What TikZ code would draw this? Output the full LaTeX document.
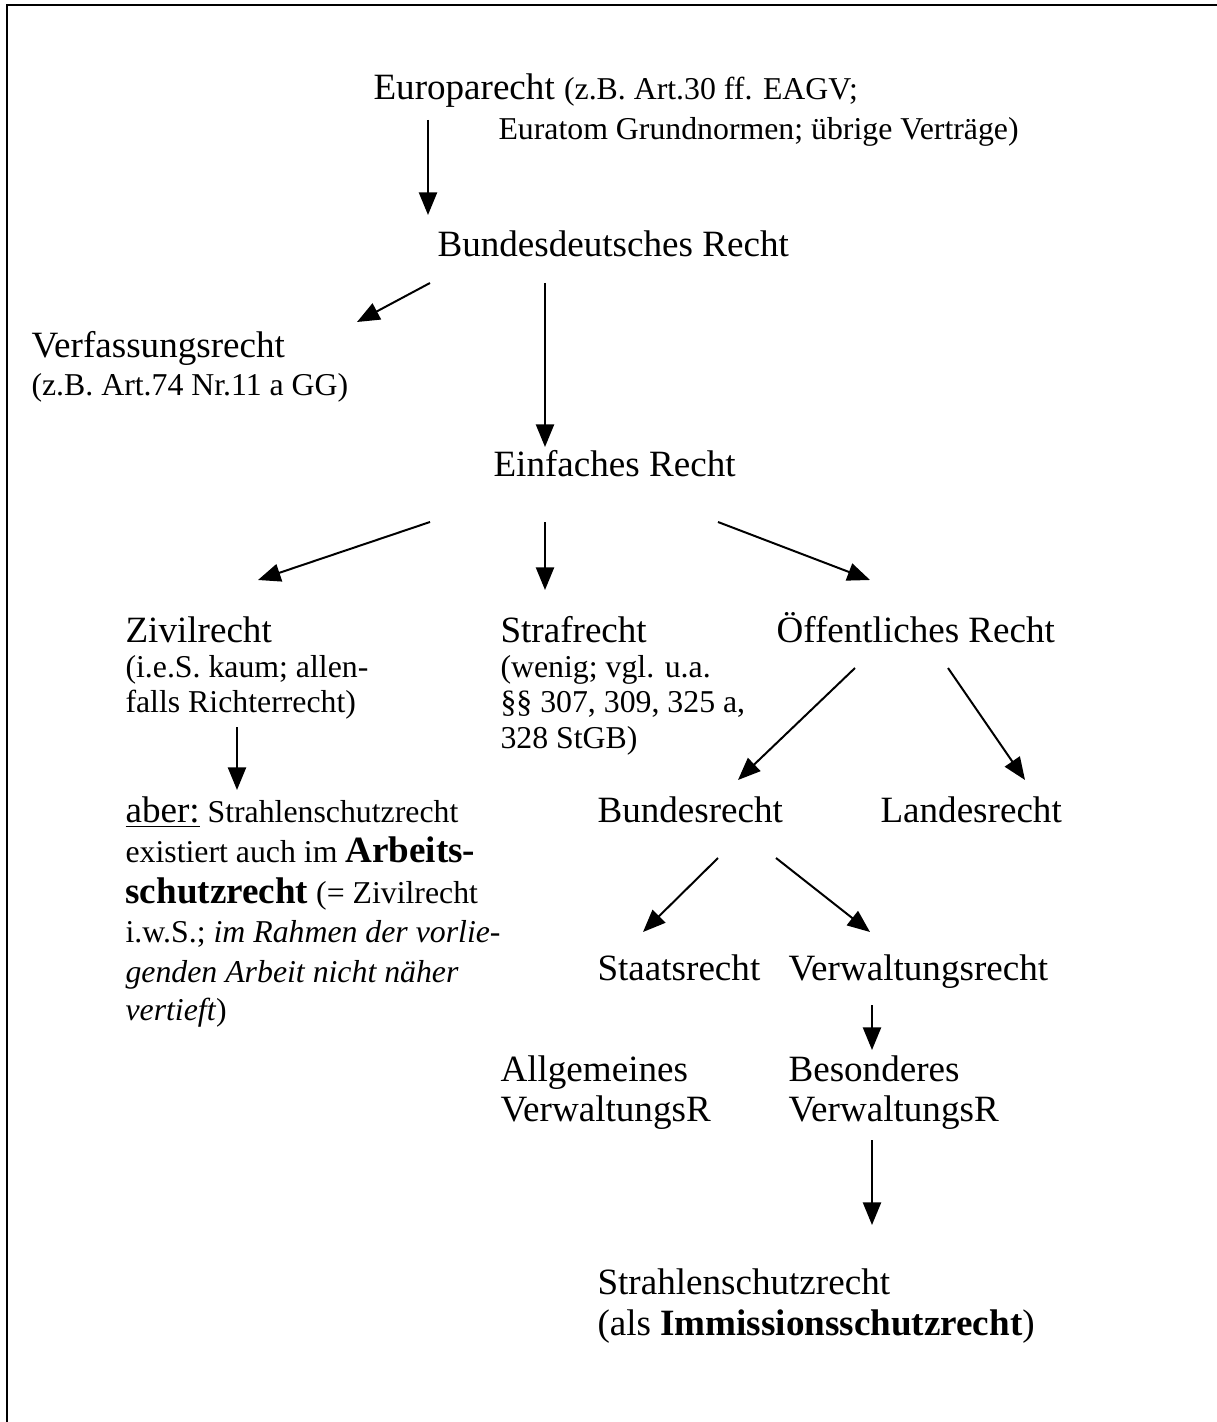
\documentclass[tikz,border=0pt]{standalone}
\usepackage{fontspec}
\setmainfont{Liberation Serif}
\usetikzlibrary{arrows.meta}
\newcommand{\bigsz}{\fontsize{14}{16}\selectfont}
\tikzset{
  big/.style={font=\fontsize{14}{16}\selectfont, inner sep=0pt, anchor=base west},
  small/.style={font=\fontsize{12}{14}\selectfont, inner sep=0pt, anchor=base west},
  arr/.style={-{Triangle[length=8.5pt,width=6.8pt]}, line width=0.75pt},
  frame/.style={line width=0.8pt}
}
\begin{document}
\begin{tikzpicture}[x=0.3774pt,y=-0.3774pt]
\useasboundingbox (0,0) rectangle (1217,1422);
\draw[frame] (7,1422) -- (7,5) -- (1217,5);

% texts
\node[big] (eu) at (373,100) {Europarecht {\fontsize{12}{14}\selectfont (z.B. Art.30 ff. EAGV;}};
\node[small] (eu2) at (498,140) {Euratom Grundnormen; übrige Verträge)};
\node[big] (bd) at (437,257) {Bundesdeutsches Recht};
\node[big] (vf) at (31,357) {Verfassungsrecht};
\node[small] (vf2) at (31,395) {(z.B. Art.74 Nr.11 a GG)};
\node[big] (ein) at (493,476) {Einfaches Recht};
\node[big] (ziv) at (125,642) {Zivilrecht};
\node[small] (ziv2) at (125,677) {(i.e.S. kaum; allen-};
\node[small] (ziv3) at (125,712) {falls Richterrecht)};
\node[big] (stra) at (500,642) {Strafrecht};
\node[small] (stra2) at (500,677) {(wenig; vgl. u.a.};
\node[small] (stra3) at (500,712) {§§ 307, 309, 325 a,};
\node[small] (stra4) at (500,748) {328 StGB)};
\node[big] (oef) at (776,642) {Öffentliches Recht};
\node[small] (ab1) at (125,822) {{\bigsz\underline{aber:}} Strahlenschutzrecht};
\node[small] (ab2) at (125,862) {existiert auch im {\bigsz\bfseries Arbeits-}};
\node[small] (ab3) at (125,903) {{\bigsz\bfseries schutzrecht} (= Zivilrecht};
\node[small] (ab4) at (125,942) {i.w.S.; \textit{im Rahmen der vorlie-}};
\node[small] (ab5) at (125,982) {\textit{genden Arbeit nicht näher}};
\node[small] (ab6) at (125,1020) {\textit{vertieft})};
\node[big] (bund) at (597,822) {Bundesrecht};
\node[big] (land) at (880,822) {Landesrecht};
\node[big] (staat) at (597,980) {Staatsrecht};
\node[big] (verw) at (788,980) {Verwaltungsrecht};
\node[big] (allg) at (500,1081) {Allgemeines};
\node[big] (allg2) at (500,1121) {VerwaltungsR};
\node[big] (bes) at (788,1081) {Besonderes};
\node[big] (bes2) at (788,1121) {VerwaltungsR};
\node[big] (ssr) at (597,1294) {Strahlenschutzrecht};
\node[big] (ssr2) at (597,1335) {(als \textbf{Immissionsschutzrecht})};

% arrow end points
\coordinate (a1s) at (428,120);  \coordinate (a1e) at (428,215);
\coordinate (a2s) at (430,283);  \coordinate (a2e) at (357,322);
\coordinate (a3s) at (545,283);  \coordinate (a3e) at (545,447);
\coordinate (a4s) at (430,522);  \coordinate (a4e) at (258,580);
\coordinate (a5s) at (545,522);  \coordinate (a5e) at (545,590);
\coordinate (a6s) at (718,522);  \coordinate (a6e) at (870,580);
\coordinate (a7s) at (237,727);  \coordinate (a7e) at (237,790);
\coordinate (a8s) at (855,668);  \coordinate (a8e) at (738,780);
\coordinate (a9s) at (948,668);  \coordinate (a9e) at (1025,780);
\coordinate (a10s) at (718,858); \coordinate (a10e) at (643,932);
\coordinate (a11s) at (776,858); \coordinate (a11e) at (870,932);
\coordinate (a12s) at (872,1005); \coordinate (a12e) at (872,1050);
\coordinate (a13s) at (872,1140); \coordinate (a13e) at (872,1225);

\foreach \i in {1,...,13} \draw[arr] (a\i s) -- (a\i e);
\end{tikzpicture}
\end{document}
